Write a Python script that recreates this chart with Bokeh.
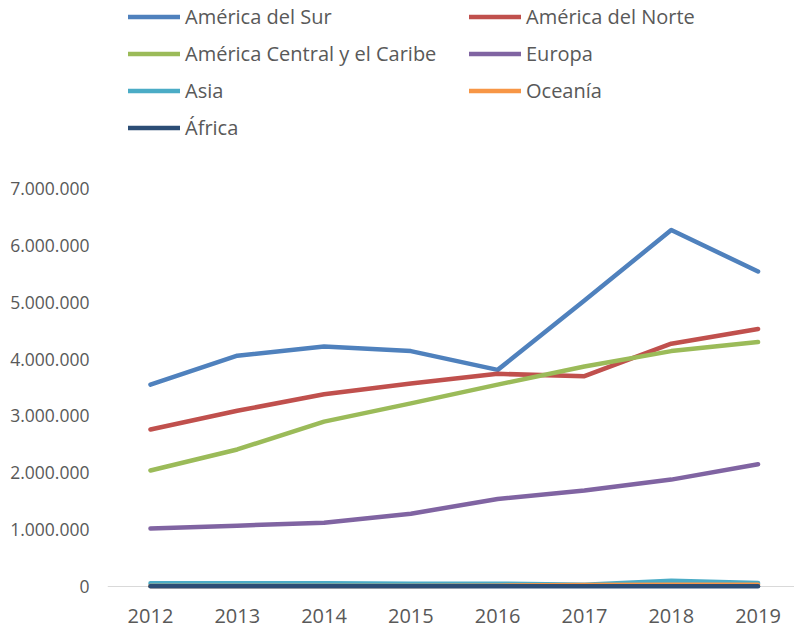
from bokeh.plotting import figure
from bokeh.models import Legend, LegendItem, FixedTicker, Span, Range1d
from bokeh.embed import file_html
from bokeh.resources import INLINE

years = [2012, 2013, 2014, 2015, 2016, 2017, 2018, 2019]
america_sur = [3550000, 4060000, 4220000, 4140000, 3810000, 5030000, 6270000, 5540000]
america_norte = [2760000, 3090000, 3380000, 3570000, 3740000, 3700000, 4270000, 4530000]
america_central = [2040000, 2410000, 2900000, 3220000, 3550000, 3870000, 4140000, 4300000]
europa = [1020000, 1070000, 1120000, 1280000, 1540000, 1690000, 1880000, 2150000]
asia = [55000, 55000, 55000, 50000, 50000, 30000, 100000, 60000]
oceania = [10000, 10000, 10000, 10000, 15000, 25000, 30000, 30000]
africa = [5000, 5000, 5000, 5000, 5000, 5000, 5000, 5000]

series_names = ["América del Sur", "América del Norte", "América Central y el Caribe",
                "Europa", "Asia", "Oceanía", "África"]
series_values = [america_sur, america_norte, america_central, europa, asia, oceania, africa]
series_colors = ["#4F81BD", "#C0504D", "#9BBB59", "#8064A2", "#4BACC6", "#F79646", "#2C4D75"]

y_ticks = [0, 1000000, 2000000, 3000000, 4000000, 5000000, 6000000, 7000000]
y_tick_labels = ["0", "1.000.000", "2.000.000", "3.000.000", "4.000.000",
                 "5.000.000", "6.000.000", "7.000.000"]

FONT = "Open Sans"
TEXT_COLOR = "#595959"

p = figure(width=794, height=627, output_backend="svg", toolbar_location=None,
           x_range=Range1d(2011.505, 2019.42), y_range=Range1d(-70400, 10306600),
           min_border_left=107, min_border_right=0, min_border_top=0, min_border_bottom=37)
p.outline_line_color = None
p.background_fill_color = "white"
p.border_fill_color = "white"
p.xgrid.visible = False
p.ygrid.visible = False

zero = Span(location=0, dimension="width", line_color="#D9D9D9", line_width=1, level="underlay")
p.add_layout(zero)

renderers = []
for name, vals, col in zip(series_names, series_values, series_colors):
    r = p.line(years, vals, line_color=col, line_width=4.5, line_cap="round", line_join="round")
    renderers.append(r)

# axes
p.xaxis.ticker = FixedTicker(ticks=years)
p.xaxis.axis_line_color = None
p.xaxis.major_tick_line_color = None
p.xaxis.minor_tick_line_color = None
p.xaxis.major_label_text_font = FONT
p.xaxis.major_label_text_font_size = "20px"
p.xaxis.major_label_text_color = TEXT_COLOR
p.xaxis.major_label_standoff = 12

p.yaxis.ticker = FixedTicker(ticks=y_ticks)
p.yaxis.major_label_overrides = {t: l for t, l in zip(y_ticks, y_tick_labels)}
p.yaxis.axis_line_color = None
p.yaxis.major_tick_line_color = None
p.yaxis.minor_tick_line_color = None
p.yaxis.major_tick_out = 0
p.yaxis.major_tick_in = 0
p.yaxis.minor_tick_out = 0
p.yaxis.major_label_text_font = FONT
p.yaxis.major_label_text_font_size = "17.5px"
p.yaxis.major_label_text_color = TEXT_COLOR
p.yaxis.major_label_standoff = 18

def make_legend(idx, loc):
    items = [LegendItem(label=series_names[i], renderers=[renderers[i]]) for i in idx]
    lg = Legend(items=items, location=loc, orientation="vertical",
                label_text_font=FONT, label_text_font_size="20px",
                label_text_color=TEXT_COLOR, glyph_width=52, glyph_height=27,
                label_height=27, spacing=10, label_standoff=5, padding=0, margin=0,
                border_line_color=None, background_fill_alpha=0)
    p.add_layout(lg, "center")
    return lg

make_legend([0, 2, 4, 6], (21, 449))
make_legend([1, 3, 5], (362, 486))

open("out.html", "w").write(file_html(p, INLINE))
